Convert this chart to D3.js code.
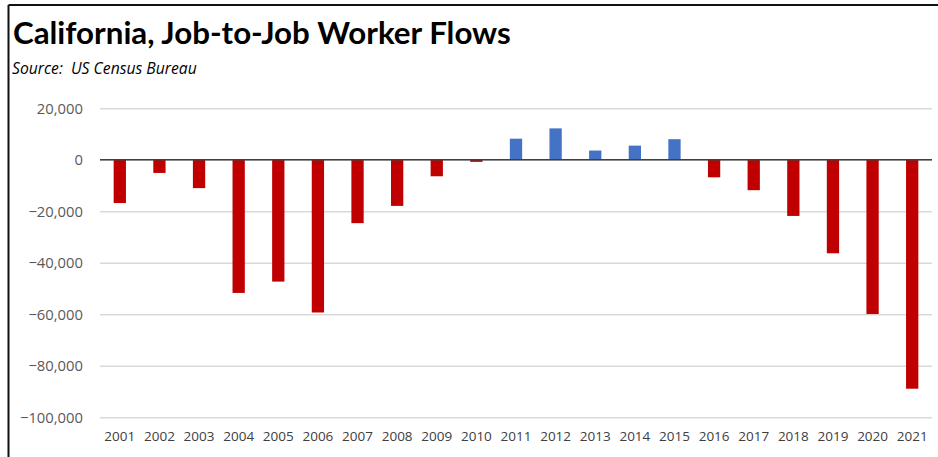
<!DOCTYPE html>
<html>
<head>
<meta charset="utf-8">
<script src="https://cdn.jsdelivr.net/npm/d3@7"></script>
<style>
  html, body { margin: 0; padding: 0; background: #fff; }
  svg { display: block; }
</style>
</head>
<body>
<svg id="chart" width="938" height="457"></svg>
<script>
// Annual net job-to-job worker flows for California
const years = ["2001","2002","2003","2004","2005","2006","2007","2008","2009","2010","2011",
               "2012","2013","2014","2015","2016","2017","2018","2019","2020","2021"];
const netFlows = [-16800, -5100, -11000, -51700, -47300, -59300, -24600, -17900, -6400, -800, 8200,
                  12200, 3600, 5500, 8000, -6800, -11800, -21800, -36300, -59900, -88900];
const yTicks = [20000, 0, -20000, -40000, -60000, -80000, -100000];

const titleText = "California, Job-to-Job Worker Flows";
const sourceText = "Source:  US Census Bureau";

const svg = d3.select("#chart");
const W = 938, H = 457;
const plot = { left: 100, right: 932, top: 108.3, bottom: 417.3 };

// frame lines on the top and left
svg.append("line").attr("x1", 8.5).attr("x2", W).attr("y1", 5).attr("y2", 5)
  .attr("stroke", "#111").attr("stroke-width", 2);
svg.append("line").attr("x1", 8.5).attr("x2", 8.5).attr("y1", 5).attr("y2", H)
  .attr("stroke", "#111").attr("stroke-width", 2);

svg.append("text").attr("x", 13).attr("y", 44)
  .attr("font-family", "Lato, 'Open Sans', sans-serif").attr("font-weight", 700)
  .attr("font-size", 31.3).attr("fill", "#000").text(titleText);

svg.append("text").attr("x", 12).attr("y", 74)
  .style("white-space", "pre")
  .attr("font-family", "'Open Sans', Lato, sans-serif").attr("font-style", "italic")
  .attr("font-size", 15.7).attr("fill", "#000").text(sourceText);

const x = d3.scaleBand().domain(years).range([plot.left, plot.right]).paddingInner(0.69).paddingOuter(0.345);
const y = d3.scaleLinear().domain([-100000, 20000]).range([plot.bottom, plot.top]);

// horizontal gridlines
const yAxis = d3.axisLeft(y).tickValues(yTicks).tickSize(-(plot.right - plot.left))
  .tickFormat(d3.format(",")).tickPadding(17);
const gy = svg.append("g").attr("transform", `translate(${plot.left},0)`).call(yAxis);
gy.select(".domain").remove();
gy.selectAll(".tick line").attr("stroke", "#d9d9d9").attr("stroke-width", 1.5);
gy.selectAll(".tick text").attr("fill", "#595959")
  .attr("font-family", "'Open Sans', sans-serif").attr("font-size", 14.8);

// bars
svg.append("g").selectAll("rect").data(years.map((yr, i) => ({ yr, v: netFlows[i] })))
  .join("rect")
  .attr("x", d => x(d.yr))
  .attr("width", x.bandwidth())
  .attr("y", d => Math.min(y(d.v), y(0)))
  .attr("height", d => Math.abs(y(d.v) - y(0)))
  .attr("fill", d => d.v >= 0 ? "#4472c4" : "#c00000");

// zero baseline
svg.append("line").attr("x1", plot.left).attr("x2", plot.right)
  .attr("y1", y(0)).attr("y2", y(0)).attr("stroke", "#404040").attr("stroke-width", 1.5);

// category axis labels
const xAxis = d3.axisBottom(x).tickSize(0).tickPadding(14);
const gx = svg.append("g").attr("transform", `translate(0,${plot.bottom})`).call(xAxis);
gx.select(".domain").remove();
gx.selectAll(".tick text").attr("fill", "#404040")
  .attr("font-family", "'Open Sans', sans-serif").attr("font-size", 13.5);
</script>
</body>
</html>
